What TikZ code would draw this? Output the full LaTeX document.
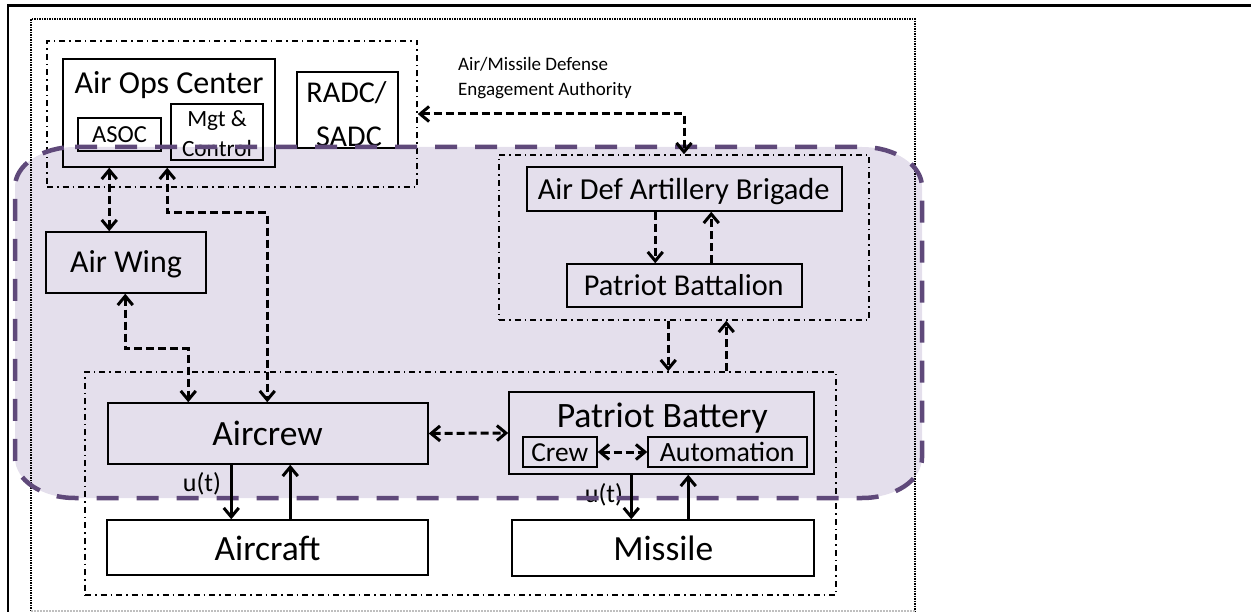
\documentclass[tikz,border=0pt]{standalone}
\usepackage{fontspec}
\setmainfont{Carlito}
\usetikzlibrary{arrows.meta}
\definecolor{pfill}{HTML}{E4DFEC}
\definecolor{pline}{HTML}{5F497A}
\newcommand\fsz[1]{\fontsize{#1}{#1}\selectfont}
\begin{document}
\begin{tikzpicture}[x=1pt,y=-1pt,
  >={Straight Barb[length=9pt,width=15pt]},
  box/.style={draw=black,line width=1.5pt,inner sep=0pt,anchor=center},
  grp/.style={draw=black,line width=1.5pt,dash pattern=on 6pt off 4pt on 1.5pt off 4pt,inner sep=0pt,anchor=center},
  lbl/.style={anchor=base,inner sep=0pt,text=black},
  dar/.style={line width=3pt,dash pattern=on 8pt off 4pt},
  sar/.style={line width=3pt}]
\useasboundingbox (0,0) rectangle (1251,612);
% page frame
\draw[line width=3pt] (7,6) -- (1251,6);
\draw[line width=2.5pt] (8,5) -- (8,612);
% purple region fill
\fill[pfill] (75,147) -- (862,147) .. controls (895.1,147) and (922,164.9) .. (922,187) -- (922,458) .. controls (922,480.1) and (895.1,498) .. (862,498) -- (75,498) .. controls (41.9,498) and (15,480.1) .. (15,458) -- (15,187) .. controls (15,164.9) and (41.9,147) .. (75,147) -- cycle;
% dotted frame
\draw[line width=2pt,dash pattern=on 1.5pt off 1pt] (31,611) -- (31,19) -- (915,19) -- (915,611);
\draw[line width=1.5pt,gray!50,dash pattern=on 1.5pt off 1.5pt] (31,611) -- (915,611);
% groups
\node[grp,minimum width=370pt,minimum height=146pt] (grpAOC) at (232,114) {};
\node[grp,minimum width=370pt,minimum height=165pt] (grpADA) at (684,237.5) {};
\node[grp,minimum width=751pt,minimum height=223pt] (grpBot) at (460.5,483.5) {};
% boxes
\node[box,minimum width=212pt,minimum height=108pt] (aoc) at (169,113) {};
\node[box,minimum width=83pt,minimum height=33pt] (asoc) at (119.5,134.5) {};
\node[box,minimum width=92pt,minimum height=56pt] (mgt) at (217,132) {};
\node[box,minimum width=101pt,minimum height=76pt] (radc) at (347.5,110) {};
\node[box,minimum width=160pt,minimum height=61pt] (airwing) at (126,262.5) {};
\node[box,minimum width=315pt,minimum height=44pt] (ada) at (684.5,189) {};
\node[box,minimum width=235pt,minimum height=43pt] (bn) at (684.5,285.5) {};
\node[box,minimum width=320pt,minimum height=61pt] (aircrew) at (268,433.5) {};
\node[box,fill=white,minimum width=321pt,minimum height=55pt] (aircraft) at (267.5,547.5) {};
\node[box,minimum width=305pt,minimum height=82pt] (battery) at (661.5,433) {};
\node[box,minimum width=74pt,minimum height=30pt] (crew) at (560,452) {};
\node[box,minimum width=159pt,minimum height=30pt] (auto) at (727.5,452) {};
\node[box,fill=white,minimum width=302pt,minimum height=56pt] (missile) at (663,548) {};
% texts
\node[lbl,font=\fsz{32}] (taoc) at (169,94) {Air Ops Center};
\node[lbl,font=\fsz{24.5}] (tasoc) at (119.5,143) {ASOC};
\node[lbl,font=\fsz{23.3}] (tmgt1) at (217,127) {Mgt \&};
\node[lbl,font=\fsz{23.3}] (tmgt2) at (217,157) {Control};
\node[lbl,font=\fsz{30.2}] (tradc1) at (346.5,103) {RADC/};
\node[lbl,font=\fsz{30.2}] (tradc2) at (349,147) {SADC};
\node[lbl,anchor=base west,font=\fsz{19}] (tauth1) at (458,71) {Air/Missile Defense};
\node[lbl,anchor=base west,font=\fsz{19}] (tauth2) at (458,96) {Engagement Authority};
\node[lbl,font=\fsz{31.9}] (twing) at (126,273) {Air Wing};
\node[lbl,font=\fsz{30.5}] (tada) at (683.7,200) {Air Def Artillery Brigade};
\node[lbl,font=\fsz{30.3}] (tbn) at (683.8,296) {Patriot Battalion};
\node[lbl,font=\fsz{35.5}] (tcrew) at (267.5,446) {Aircrew};
\node[lbl,font=\fsz{35.5}] (tcraft) at (267.5,560) {Aircraft};
\node[lbl,font=\fsz{35.7}] (tbat) at (662.2,427.7) {Patriot Battery};
\node[lbl,font=\fsz{27.4}] (tcr) at (559.7,461.7) {Crew};
\node[lbl,font=\fsz{27.9}] (tauto) at (727.2,461.7) {Automation};
\node[lbl,font=\fsz{35.4}] (tmis) at (663.3,560) {Missile};
\node[lbl,font=\fsz{26}] (tu1) at (202,491.7) {u(t)};
\node[lbl,font=\fsz{26}] (tu2) at (604,502.7) {u(t)};
% purple dashed outline
\draw[pline,line width=4.5pt,dash pattern=on 22pt off 18pt] (75,147) -- (862,147) .. controls (895.1,147) and (922,164.9) .. (922,187) -- (922,458) .. controls (922,480.1) and (895.1,498) .. (862,498) -- (75,498) .. controls (41.9,498) and (15,480.1) .. (15,458) -- (15,187) .. controls (15,164.9) and (41.9,147) .. (75,147) -- cycle;
% dashed connectors
\draw[dar,<->] ([xshift=47pt]aoc.south west) -- ([xshift=64pt]airwing.north west);
\draw[dar,<->] ([xshift=105pt]aoc.south west) -- ++(0,45) -| ([xshift=160pt]aircrew.north west);
\draw[dar,<->] ([xshift=80pt]airwing.south west) -- ++(0,55) -| ([xshift=81pt]aircrew.north west);
\draw[dar,<->] (grpAOC.east) -| (grpADA.north);
\draw[dar,->] ([xshift=129pt]ada.south west) -- ([xshift=89pt]bn.north west);
\draw[dar,->] ([xshift=145pt]bn.north west) -- ([xshift=185pt]ada.south west);
\draw[dar,->] ([xshift=170pt]grpADA.south west) -- ([xshift=584pt]grpBot.north west);
\draw[dar,->] ([xshift=642pt]grpBot.north west) -- ([xshift=228pt]grpADA.south west);
\draw[dar,<->] (aircrew.east) -- (battery.west);
\draw[dar,<->] (crew.east) -- (auto.west);
% solid connectors
\draw[sar,->] ([xshift=124pt]aircrew.south west) -- ([xshift=125pt]aircraft.north west);
\draw[sar,->] ([xshift=184pt]aircraft.north west) -- ([xshift=183pt]aircrew.south west);
\draw[sar,->] ([xshift=123pt]battery.south west) -- ([xshift=120pt]missile.north west);
\draw[sar,->] ([xshift=177pt]missile.north west) -- ([xshift=180pt]battery.south west);
\end{tikzpicture}
\end{document}
